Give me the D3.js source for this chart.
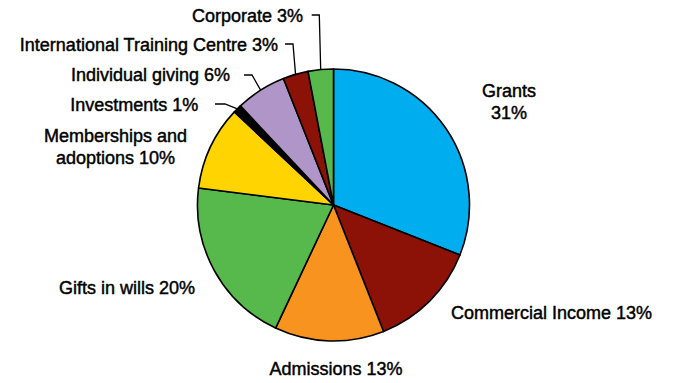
<!DOCTYPE html>
<html>
<head>
<meta charset="utf-8">
<script src="https://cdn.jsdelivr.net/npm/d3@7"></script>
<style>
  html, body { margin: 0; padding: 0; background: #fff; }
  svg { display: block; }
  .lbl {
    font-family: "Liberation Sans", Arial, sans-serif;
    font-size: 18px;
    fill: #000;
    stroke: #000;
    stroke-width: 0.45px;
  }
</style>
</head>
<body>
<script>
// Income sources, in order clockwise from twelve o'clock
const categories = [
  "Grants",
  "Commercial Income",
  "Admissions",
  "Gifts in wills",
  "Memberships and adoptions",
  "Investments",
  "Individual giving",
  "International Training Centre",
  "Corporate"
];
// Share of total income, per cent
const shares = [31, 13, 13, 20, 10, 1, 6, 3, 3];

// Slice fills
const palette = [
  "#00aeef", "#8c1106", "#f7931e", "#57b94b", "#ffd400",
  "#000000", "#b095c8", "#8c1106", "#57b94b"
];

const W = 678, H = 383;
const cx = 333.5, cy = 205, R = 136;

// Label placement: text anchor point, line breaks, optional leader line start
const labelLayout = {
  "Grants":                        { x: 509,   y: 96.7,  anchor: "middle", breakAt: "Grants" },
  "Commercial Income":             { x: 551.5, y: 319.3, anchor: "middle" },
  "Admissions":                    { x: 336,   y: 375,   anchor: "middle" },
  "Gifts in wills":                { x: 127,   y: 294,   anchor: "middle" },
  "Memberships and adoptions":     { x: 115.5, y: 141.7, anchor: "middle", breakAt: "Memberships and" },
  "Investments":                   { x: 198.3, y: 110.7, anchor: "end", leader: { x: 215, y: 104, knee: 10 } },
  "Individual giving":             { x: 230,   y: 81,    anchor: "end", leader: { x: 244, y: 75, knee: 8 } },
  "International Training Centre": { x: 278,   y: 50.7,  anchor: "end", leader: { x: 285, y: 44, knee: 8 } },
  "Corporate":                     { x: 303,   y: 21.5,  anchor: "end", leader: { x: 311.7, y: 15, knee: 7.6 } }
};
const lineGap = 22;

const data = categories.map((name, i) => ({ name, share: shares[i], colour: palette[i] }));

const svg = d3.select("body").append("svg")
  .attr("width", W).attr("height", H);

svg.append("rect").attr("width", W).attr("height", H).attr("fill", "#fff");

const pie = d3.pie().sort(null).value(d => d.share).startAngle(0).endAngle(2 * Math.PI);
const arcs = pie(data);
const arc = d3.arc().innerRadius(0).outerRadius(R);

const g = svg.append("g").attr("transform", `translate(${cx},${cy})`);

g.selectAll("path.slice")
  .data(arcs)
  .join("path")
  .attr("class", "slice")
  .attr("d", arc)
  .attr("fill", d => d.data.colour)
  .attr("stroke", "#000")
  .attr("stroke-width", 1.6)
  .attr("stroke-linejoin", "round");

// Leader lines run from beside the label to the middle of the slice's rim
const rimPoint = d => {
  const a = (d.startAngle + d.endAngle) / 2;
  return [cx + R * Math.sin(a), cy - R * Math.cos(a)];
};

arcs.forEach(d => {
  const lay = labelLayout[d.data.name];
  if (!lay.leader) return;
  const p = rimPoint(d);
  const L = lay.leader;
  svg.append("polyline")
    .attr("points", [[L.x, L.y], [L.x + L.knee, L.y], p].map(q => q.join(",")).join(" "))
    .attr("fill", "none")
    .attr("stroke", "#000")
    .attr("stroke-width", 1.3);
});

// Text labels
arcs.forEach(d => {
  const lay = labelLayout[d.data.name];
  const full = `${d.data.name} ${d.data.share}%`;
  let lines = [full];
  if (lay.breakAt) lines = [lay.breakAt, full.slice(lay.breakAt.length).trim()];
  const t = svg.append("text")
    .attr("class", "lbl")
    .attr("text-anchor", lay.anchor)
    .attr("x", lay.x)
    .attr("y", lay.y);
  lines.forEach((ln, i) => {
    t.append("tspan")
      .attr("x", lay.x)
      .attr("y", lay.y + i * lineGap)
      .text(ln);
  });
});
</script>
</body>
</html>
